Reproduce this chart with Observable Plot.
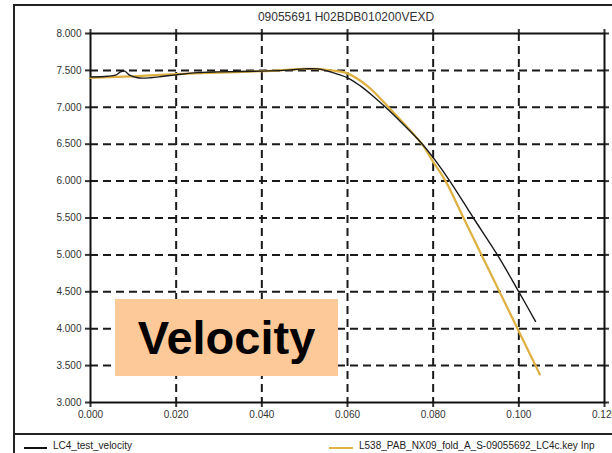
<!DOCTYPE html>
<html>
<head>
<meta charset="utf-8">
<script src="https://cdn.jsdelivr.net/npm/d3@7"></script>
<script src="https://cdn.jsdelivr.net/npm/@observablehq/plot@0.6"></script>
<style>
  html, body { margin: 0; padding: 0; background: #fff; overflow: hidden; }
  #wrap { position: relative; width: 612px; height: 453px; overflow: hidden; font-family: "Liberation Sans", Arial, sans-serif; }
  #chart { position: absolute; left: 0; top: 0; }
  .bl { position: absolute; background: #222; }
  #title { position: absolute; top: 10px; left: 0; width: 692px; text-align: center; font-size: 12px; color: #333; }
  #badge { position: absolute; left: 115px; top: 299px; width: 223px; height: 77px; background: #FDC998;
           display: flex; align-items: center; justify-content: center; font-weight: bold; font-size: 47px; color: #000; }
  .leg { position: absolute; top: 440px; font-size: 10px; color: #222; white-space: nowrap; }
  .legline { position: absolute; top: 447px; height: 2px; }
</style>
</head>
<body>
<div id="wrap">
  <div id="chart"></div>
  <div class="bl" style="left:13px; top:5px; width:2px; height:460px;"></div>
  <div class="bl" style="left:13px; top:4px; width:610px; height:2px;"></div>
  <div class="bl" style="left:13px; top:433px; width:610px; height:2px;"></div>
  <div id="title">09055691 H02BDB010200VEXD</div>
  <div id="badge">Velocity</div>
  <div class="legline" style="left:24px; width:23px; background:#111;"></div>
  <div class="leg" style="left:53px;">LC4_test_velocity</div>
  <div class="legline" style="left:329px; width:24px; background:#E0B440;"></div>
  <div class="leg" style="left:359px;">L538_PAB_NX09_fold_A_S-09055692_LC4c.key Inp</div>
</div>
<script>
// Series
const blackX = [0.000, 0.004, 0.006, 0.007, 0.008, 0.009, 0.011, 0.014, 0.017, 0.020, 0.025, 0.030, 0.040, 0.045, 0.050, 0.053, 0.056, 0.060, 0.063, 0.066, 0.0689, 0.073, 0.0775, 0.0805, 0.0839, 0.0894, 0.095, 0.100, 0.1039];
const blackY = [7.41, 7.42, 7.44, 7.48, 7.49, 7.44, 7.40, 7.40, 7.42, 7.44, 7.47, 7.48, 7.49, 7.50, 7.52, 7.52, 7.48, 7.40, 7.29, 7.15, 7.00, 6.77, 6.50, 6.28, 6.00, 5.50, 5.00, 4.50, 4.10];
const yellowX = [0.000, 0.010, 0.020, 0.030, 0.040, 0.050, 0.053, 0.056, 0.060, 0.0646, 0.0696, 0.0774, 0.080, 0.0829, 0.0871, 0.0913, 0.0955, 0.0997, 0.1039, 0.1049];
const yellowY = [7.40, 7.42, 7.45, 7.47, 7.49, 7.52, 7.52, 7.50, 7.46, 7.29, 7.00, 6.50, 6.26, 6.00, 5.50, 5.00, 4.50, 4.00, 3.50, 3.38];
const xTicks = [0, 0.02, 0.04, 0.06, 0.08, 0.10, 0.12];
const yTicks = [3, 3.5, 4, 4.5, 5, 5.5, 6, 6.5, 7, 7.5, 8];

const black = blackX.map((x, i) => ({x, y: blackY[i]}));
const yellow = yellowX.map((x, i) => ({x, y: yellowY[i]}));
const fmt = d3.format(".3f");

const chart = Plot.plot({
  width: 612,
  height: 453,
  marginLeft: 90,
  marginTop: 33,
  marginRight: 8,
  marginBottom: 51,
  style: {fontFamily: "'Liberation Sans', Arial, sans-serif", fontSize: "10px", color: "#333", background: "transparent", overflow: "visible"},
  x: {domain: [0, 0.12], ticks: xTicks, label: null},
  y: {domain: [3, 8], ticks: yTicks, label: null},
  marks: [
    Plot.gridX(xTicks.slice(1, -1), {stroke: "#1a1a1a", strokeOpacity: 1, strokeWidth: 2, strokeDasharray: "8,5"}),
    Plot.gridY(yTicks.slice(1, -1), {stroke: "#1a1a1a", strokeOpacity: 1, strokeWidth: 2, strokeDasharray: "8,5"}),
    Plot.axisX(xTicks, {anchor: "bottom", tickSize: 5, tickPadding: 3, tickFormat: fmt, label: null, strokeWidth: 2, fill: "#333"}),
    Plot.axisY(yTicks, {anchor: "left", tickSize: 5, tickPadding: 4, tickFormat: fmt, label: null, strokeWidth: 2, fill: "#333"}),
    Plot.axisX(xTicks, {anchor: "top", tickSize: 5, tickFormat: () => "", label: null, strokeWidth: 2}),
    Plot.axisY(yTicks, {anchor: "right", tickSize: 4, tickFormat: () => "", label: null, strokeWidth: 2}),
    Plot.frame({stroke: "#111", strokeWidth: 2}),
    Plot.line(yellow, {x: "x", y: "y", stroke: "#DDB040", strokeWidth: 2.2, curve: "catmull-rom"}),
    Plot.line(black, {x: "x", y: "y", stroke: "#1a1a1a", strokeWidth: 1.4, curve: "catmull-rom"})
  ]
});
document.getElementById("chart").appendChild(chart);
</script>
</body>
</html>
